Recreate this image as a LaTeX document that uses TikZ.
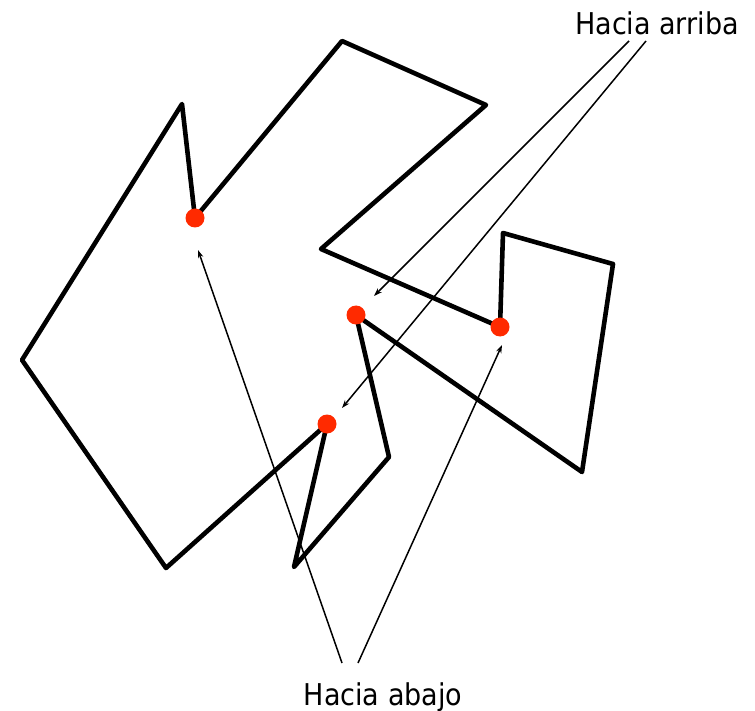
\documentclass[tikz,border=0pt]{standalone}
\usepackage{fontspec}
\setmainfont{DejaVu Sans Condensed}
\usetikzlibrary{arrows.meta}
\definecolor{DotRed}{HTML}{FF2A00}
\tikzset{
  outline/.style={draw=black,line width=4.6pt,line join=round},
  dot/.style={circle,fill=DotRed,inner sep=0pt,minimum size=19pt},
  pointer/.style={-{Stealth[length=8pt,width=5.5pt]},line width=1.5pt},
  lbl/.style={font=\fontsize{30}{32}\selectfont,anchor=base,inner sep=0pt}
}
\begin{document}
\begin{tikzpicture}[x=1pt,y=-1pt]
\useasboundingbox (0,0) rectangle (755,711);
% corners of the path
\coordinate (a) at (195,218);
\coordinate (p1) at (342,41);
\coordinate (p2) at (486,105);
\coordinate (p3) at (321,249);
\coordinate (b) at (500,327);
\coordinate (p4) at (503,233);
\coordinate (p5) at (613,264);
\coordinate (p6) at (582,472);
\coordinate (c) at (356,315);
\coordinate (p7) at (389,457);
\coordinate (p8) at (294,567);
\coordinate (d) at (327,424);
\coordinate (p9) at (166,568);
\coordinate (p10) at (22,360);
\coordinate (p11) at (182,104);
\draw[outline] (a) -- (p1) -- (p2) -- (p3) -- (b) -- (p4) -- (p5) -- (p6)
  -- (c) -- (p7) -- (p8) -- (d) -- (p9) -- (p10) -- (p11) -- cycle;
% turning points
\node[dot] (ta) at (a) {};
\node[dot] (tb) at (b) {};
\node[dot] (tc) at (c) {};
\node[dot] (td) at (d) {};
% labels
\node[lbl] (up) at (657,35) {Hacia arriba};
\node[lbl] (down) at (383,705) {Hacia abajo};
\coordinate (up1) at (629,41);
\coordinate (up2) at (646,41);
\coordinate (down1) at (342,663);
\coordinate (down2) at (358,663);
\coordinate (hc) at (374,296);
\coordinate (hd) at (342,408);
\coordinate (ha) at (198,250);
\coordinate (hb) at (502,345);
\draw[pointer] (up1) -- (hc);
\draw[pointer] (up2) -- (hd);
\draw[pointer] (down1) -- (ha);
\draw[pointer] (down2) -- (hb);
\end{tikzpicture}
\end{document}
